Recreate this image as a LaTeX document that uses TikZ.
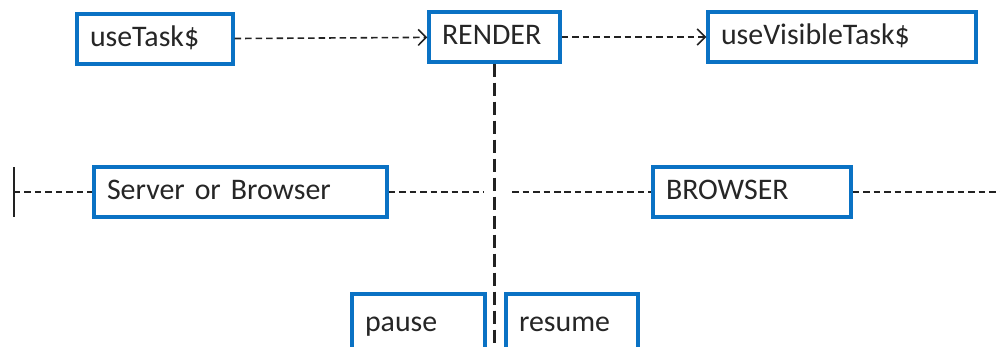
\documentclass[tikz,border=0pt]{standalone}
\usepackage{fontspec}
\setmainfont{Carlito}
\usetikzlibrary{arrows.meta,positioning}
\definecolor{boxblue}{HTML}{0A72C4}
\definecolor{linegray}{HTML}{222222}

\begin{document}
\begin{tikzpicture}[
  x=0.02cm, y=-0.02cm,
  blk/.style={draw=boxblue,line width=2pt,fill=white,inner xsep=0.26cm,inner ysep=0pt,align=left,minimum height=1cm,text height=2.1ex,text depth=0.4ex,font=\fontsize{17}{20}\selectfont,text=black!85},
  flow/.style={draw=linegray,line width=0.9pt,dash pattern=on 0.13cm off 0.08cm},
  arr/.style={flow,-{Straight Barb[length=1.6mm,width=3.2mm]}},
  life/.style={draw=linegray,line width=1.3pt,dash pattern=on 0.26cm off 0.12cm}
]
\useasboundingbox (0,0) rectangle (1000,347);
\clip (0,0) rectangle (1000,347);
% top row
\node[blk,text width=2.6cm] (task) at (155,39) {useTask\$};
\node[blk,text width=2.1cm] (render) at (494.5,37) {RENDER};
\node[blk,text width=4.84cm] (visible) at (842,37) {useVisibleTask\$};
\draw[arr] (task)--(render);
\draw[arr] (render)--(visible);
% timeline
\coordinate (tick) at (14,192);
\coordinate (gapl) at (484,192);
\coordinate (gapr) at (512,192);
\coordinate (rend) at (1002,192);
\node[blk,text width=5.34cm] (server) at (240.5,192) {Server or Browser};
\node[blk,text width=3.44cm] (browser) at (752,192) {BROWSER};
\draw[line width=1.1pt,draw=linegray] ([yshift=-0.5cm]tick)--([yshift=0.5cm]tick);
\draw[flow] (tick)--(server);
\draw[flow] (server)--(gapl);
\draw[flow] (gapr)--(browser);
\draw[flow] (browser)--(rend);
% split
\coordinate (bottom) at (render.south |- 0,360);
\draw[life] (render.south)--(bottom);
\node[blk,text width=2.14cm,minimum height=1.2cm] (pause) at (418.5,324) {pause};
\node[blk,text width=2.12cm,minimum height=1.2cm] (resume) at (572,324) {resume};
\end{tikzpicture}
\end{document}
